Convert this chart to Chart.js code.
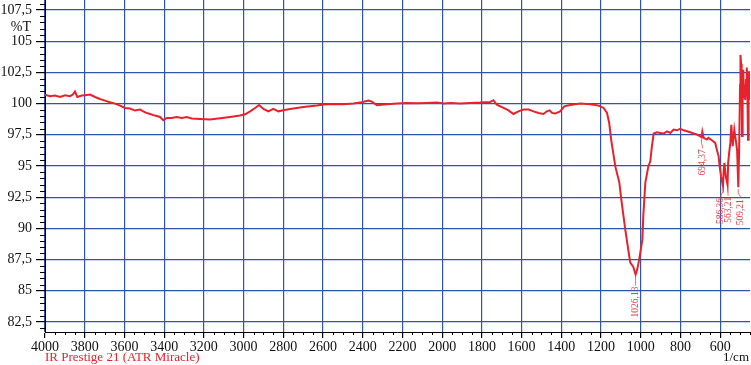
<!DOCTYPE html>
<html>
<head>
<meta charset="utf-8">
<script src="https://cdn.jsdelivr.net/npm/chart.js@4.4.0/dist/chart.umd.min.js"></script>
<style>
body { margin: 0; background: #fff; }
</style>
</head>
<body>
<canvas id="irChart" width="751" height="365"></canvas>
<script>
// spectrum, 1/cm and %T
const wavenumbers = [
	4000, 3975, 3950, 3924, 3899, 3874, 3860, 3849, 3837, 3815, 3798, 3773, 3748, 3723, 3698, 3673,
	3647, 3622, 3597, 3572, 3547, 3521, 3496, 3471, 3446, 3421, 3404, 3387, 3362, 3337, 3311, 3286,
	3261, 3219, 3169, 3118, 3068, 3018, 2992, 2967, 2942, 2922, 2900, 2875, 2850, 2825, 2800, 2766,
	2732, 2699, 2665, 2631, 2598, 2548, 2497, 2447, 2405, 2371, 2354, 2329, 2279, 2228, 2178, 2127,
	2077, 2027, 1990, 1960, 1909, 1859, 1809, 1758, 1742, 1725, 1691, 1666, 1641, 1616, 1590, 1565,
	1540, 1515, 1490, 1473, 1459, 1447, 1431, 1406, 1385, 1355, 1305, 1254, 1212, 1187, 1170, 1159,
	1149, 1128, 1108, 1098, 1078, 1063, 1053, 1038, 1026, 1018, 1008, 992, 987, 977, 962, 952,
	944, 935, 918, 902, 885, 868, 851, 835, 818, 801, 784, 767, 751, 734, 717, 700,
	694, 690, 683, 667, 659, 642, 625, 617, 608, 603, 596, 586, 582, 579, 572, 563,
	560, 555, 549, 544, 537, 529, 522, 515, 509, 505, 500, 498, 495, 492, 490, 487,
	484, 480, 477, 474, 470, 466, 463, 460, 457, 454, 452
];
const transmittance = [
	100.72, 100.59, 100.64, 100.53, 100.67, 100.59, 100.72, 100.96, 100.53, 100.64, 100.67, 100.72, 100.53, 100.37, 100.24, 100.11,
	100.0, 99.84, 99.65, 99.6, 99.44, 99.52, 99.3, 99.17, 99.04, 98.93, 98.66, 98.85, 98.85, 98.93, 98.85, 98.93,
	98.8, 98.77, 98.72, 98.82, 98.93, 99.04, 99.14, 99.38, 99.65, 99.89, 99.57, 99.38, 99.57, 99.38, 99.46, 99.57,
	99.65, 99.73, 99.78, 99.84, 99.92, 99.97, 99.95, 100.0, 100.11, 100.24, 100.16, 99.87, 99.95, 100.0, 100.05, 100.03,
	100.05, 100.08, 100.0, 100.05, 100.0, 100.05, 100.08, 100.13, 100.27, 99.92, 99.65, 99.46, 99.17, 99.38, 99.52, 99.52,
	99.38, 99.25, 99.17, 99.38, 99.46, 99.25, 99.2, 99.38, 99.78, 99.89, 100.0, 99.95, 99.84, 99.65, 99.25, 98.45,
	97.1, 94.95, 93.67, 92.3, 89.9, 88.3, 87.26, 86.94, 86.3, 86.7, 87.5, 89.1, 91.1, 93.67, 94.95, 95.38,
	96.58, 97.6, 97.7, 97.65, 97.6, 97.78, 97.65, 97.92, 97.86, 97.97, 97.86, 97.78, 97.7, 97.6, 97.52, 97.38,
	97.3, 97.75, 97.25, 97.12, 97.25, 97.06, 96.85, 96.3, 95.78, 94.98, 94.18, 93.4, 94.7, 95.25, 94.18, 93.5,
	95.25, 96.05, 96.85, 98.3, 96.58, 97.92, 97.12, 96.3, 93.3, 96.0, 101.5, 103.9, 103.2, 102.0, 97.4, 101.5,
	102.7, 100.5, 101.5, 100.3, 101.9, 102.9, 100.8, 97.1, 101.5, 102.6, 100.3
];

// marked bands
const peakWavenumbers = [1026.13, 694.37, 586.36, 563.21, 509.21];
const peakValues = [86.3, 97.3, 93.4, 93.5, 93.3];

const xRange = [450, 4000];
const yRange = [81.7, 108.3];
const xStep = 200;
const yStep = 2.5;
const xMinorStep = 50;
const yMinorStep = 0.5;

const $doc = document;
var ctx = $doc.getElementById('irChart');

var points = [];
for (let i = 0; i < wavenumbers.length; i++) {
	points.push({ x: wavenumbers[i], y: transmittance[i] });
}

function commaNum(v) {
	return String(v).replace('.', ',');
}

const gridBlue = '#2f55a8';
const curveRed = '#e8222b';
const labelRed = '#e8404a';
const labelShift = [0, 1, -2, 0.5, 2];

var extrasPlugin = {
	id: 'extras',
	afterDraw: function(chart) {
		const c = chart.ctx;
		const xs = chart.scales.x;
		const ys = chart.scales.y;
		const area = chart.chartArea;
		c.save();
		// minor ticks
		c.strokeStyle = '#000';
		c.lineWidth = 1;
		c.beginPath();
		for (let v = xRange[0]; v <= xRange[1]; v += xMinorStep) {
			if (v % xStep == 0) continue;
			const px = Math.round(xs.getPixelForValue(v)) + 0.5;
			c.moveTo(px, area.bottom);
			c.lineTo(px, area.bottom + 3);
		}
		for (let v = 82; v <= 108; v += yMinorStep) {
			if (Math.abs((v / yStep) - Math.round(v / yStep)) < 0.001) continue;
			const py = Math.round(ys.getPixelForValue(v)) + 0.5;
			c.moveTo(area.left - 5, py);
			c.lineTo(area.left, py);
		}
		c.stroke();

		// axis captions
		c.font = '14px "Liberation Serif"';
		c.fillStyle = '#111';
		c.textBaseline = 'middle';
		c.textAlign = 'right';
		c.fillText('%T', 31, 27);
		c.font = '13px "Liberation Serif"';
		c.fillText('1/cm', 749, 358);
		c.textAlign = 'left';
		c.fillStyle = curveRed;
		c.fillText('IR Prestige 21 (ATR Miracle)', 45, 358);

		// band labels
		c.strokeStyle = labelRed;
		c.fillStyle = labelRed;
		c.lineWidth = 0.8;
		c.font = '9.5px "Liberation Serif"';
		for (let i = 0; i < peakWavenumbers.length; i++) {
			const px = xs.getPixelForValue(peakWavenumbers[i]);
			const py = ys.getPixelForValue(peakValues[i]);
			const tx = px + labelShift[i];
			c.beginPath();
			c.moveTo(px, py + 2);
			c.lineTo(px, py + 6);
			c.lineTo(tx, py + 9);
			c.lineTo(tx, py + 11);
			c.stroke();
			c.save();
			c.translate(tx, py + 12);
			c.rotate(-Math.PI / 2);
			c.textAlign = 'right';
			c.textBaseline = 'middle';
			c.fillText(commaNum(peakWavenumbers[i]), 0, 0);
			c.restore();
		}
		c.restore();
	}
};

Chart.defaults.font.family = '"Liberation Serif"';
Chart.defaults.font.size = 14;
Chart.defaults.color = '#111';

var irChart = new Chart(ctx, {
	type: 'line',
	data: {
		datasets: [{
			data: points,
			borderColor: curveRed,
			borderWidth: 2,
			pointRadius: 0,
			tension: 0,
			fill: false
		}]
	},
	options: {
		responsive: false,
		devicePixelRatio: 1,
		animation: false,
		layout: { padding: { top: 0, right: 1, bottom: 0, left: 0 } },
		plugins: {
			legend: { display: false },
			tooltip: { enabled: false }
		},
		scales: {
			x: {
				type: 'linear',
				reverse: true,
				min: xRange[0],
				max: xRange[1],
				border: { color: '#000', width: 1 },
				grid: { color: gridBlue, lineWidth: 1.2, tickColor: '#000', tickLength: 6 },
				ticks: {
					stepSize: xStep,
					includeBounds: false,
					maxRotation: 0,
					autoSkip: false,
					padding: 1,
					callback: function(value) { return value; }
				},
				afterFit: function(scale) {
					scale.height = 33;
					scale.paddingLeft = 0;
					scale.paddingRight = 0;
				}
			},
			y: {
				min: yRange[0],
				max: yRange[1],
				border: { color: '#000', width: 1 },
				grid: { color: gridBlue, lineWidth: 1.2, tickColor: '#000', tickLength: 9 },
				ticks: {
					stepSize: yStep,
					includeBounds: false,
					padding: 4,
					callback: function(value) { return commaNum(value); }
				},
				afterFit: function(scale) {
					scale.width = 45;
					scale.paddingTop = 0;
					scale.paddingBottom = 0;
				}
			}
		}
	},
	plugins: [extrasPlugin]
});
</script>
</body>
</html>
